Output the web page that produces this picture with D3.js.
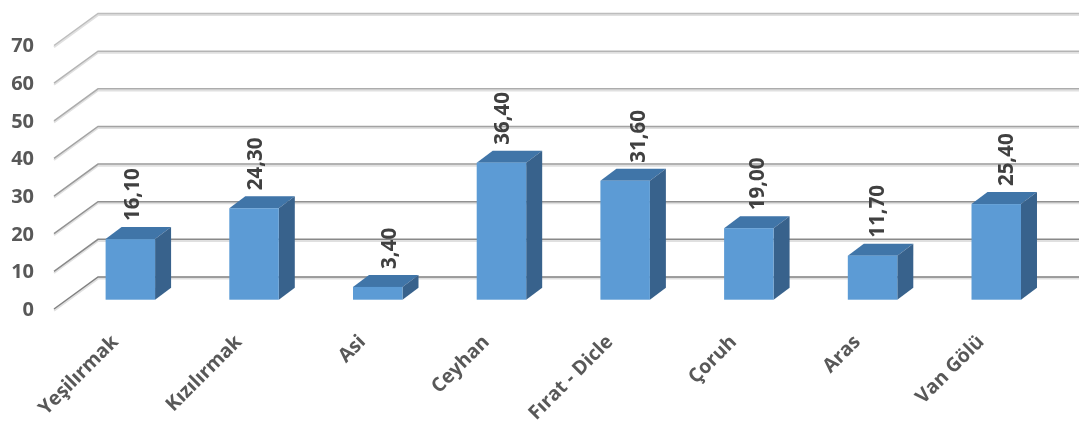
<!DOCTYPE html>
<html lang="tr">
<head>
<meta charset="UTF-8">
<title>Havzalar</title>
<style>
    body { margin: 0; background: #fff; }
    svg { display: block; }
    text { font-family: 'Open Sans', sans-serif; font-weight: 700; }
    .y-axis text { font-size: 20px; fill: #595959; }
    .x-axis text { font-size: 19.5px; fill: #595959; }
    .label { font-size: 20.5px; fill: #404040; }
</style>
</head>
<body>
<div id="chart"></div>
<script src="https://d3js.org/d3.v7.min.js"></script>
<script>
const categories = ['Yeşilırmak', 'Kızılırmak', 'Asi', 'Ceyhan', 'Fırat - Dicle', 'Çoruh', 'Aras', 'Van Gölü'];
const values = [16.1, 24.3, 3.4, 36.4, 31.6, 19.0, 11.7, 25.4];
const labels = ['16,10', '24,30', '3,40', '36,40', '31,60', '19,00', '11,70', '25,40'];
const yTicks = [0, 10, 20, 30, 40, 50, 60, 70];

const width = 1079, height = 426;

// 3d offsets: floor front -> back wall, and bar front -> bar back
const wallDx = 44, wallDy = -32;
const barDx = 16, barDy = -12;
const axisBase = 309, barBase = 299.7;
const plotH = 263.5;

// data labels were nudged by hand in the original, px from bar centre
const labelNudge = [1.5, 1, 11, 0, 13, 8, 4.5, 10];

const svg = d3.select('#chart').append('svg')
    .attr('width', width)
    .attr('height', height);

const defs = svg.append('defs');
defs.append('filter').attr('id', 'soft')
    .append('feGaussianBlur').attr('stdDeviation', 0.5);

const x = d3.scaleBand()
    .domain(categories)
    .range([68.5, 1058.1])
    .paddingInner(0.6)
    .paddingOuter(0.3);

const y = d3.scaleLinear().domain([0, 70]).range([0, -plotH]);

const root = svg.append('g').attr('filter', 'url(#soft)');

// grid: side wall diagonal + back wall line
const gridColor = d3.scaleLinear().domain([0, 70]).range(['#808080', '#bdbdbd']);

const grid = root.append('g').attr('transform', `translate(0,${axisBase})`);
grid.selectAll('path.shadow')
    .data(yTicks)
    .enter()
    .append('path')
    .attr('class', 'shadow')
    .attr('d', d => `M54,${y(d) + 1.6}L${54 + wallDx},${y(d) + wallDy + 1.6}H${width}`)
    .attr('fill', 'none')
    .attr('stroke', '#e0e0e0')
    .attr('stroke-width', 2);
grid.selectAll('path.line')
    .data(yTicks)
    .enter()
    .append('path')
    .attr('class', 'line')
    .attr('d', d => `M54,${y(d)}L${54 + wallDx},${y(d) + wallDy}H${width}`)
    .attr('fill', 'none')
    .attr('stroke', d => gridColor(d))
    .attr('stroke-width', 1.5);

// bars
const bars = root.append('g').attr('transform', `translate(0,${barBase})`);
const w = x.bandwidth();

bars.selectAll('.top')
    .data(values)
    .enter()
    .append('path')
    .attr('class', 'top')
    .attr('fill', '#3f74a8')
    .attr('d', (d, i) => {
        const x0 = x(categories[i]), t = y(d);
        return `M${x0},${t}l${barDx},${barDy}h${w}l${-barDx},${-barDy}z`;
    });

bars.selectAll('.side')
    .data(values)
    .enter()
    .append('path')
    .attr('class', 'side')
    .attr('fill', '#38628c')
    .attr('d', (d, i) => {
        const x1 = x(categories[i]) + w, t = y(d);
        return `M${x1},${t}l${barDx},${barDy}V${barDy}L${x1},0z`;
    });

bars.selectAll('.front')
    .data(values)
    .enter()
    .append('rect')
    .attr('class', 'front')
    .attr('fill', '#5b9bd5')
    .attr('x', (d, i) => x(categories[i]))
    .attr('y', d => y(d))
    .attr('width', w)
    .attr('height', d => -y(d));

// data labels
bars.selectAll('.label')
    .data(values)
    .enter()
    .append('text')
    .attr('class', 'label')
    .attr('transform', (d, i) => `translate(${x(categories[i]) + w / 2 + labelNudge[i]},${y(d) - 18}) rotate(-90)`)
    .attr('dy', '0.35em')
    .text((d, i) => labels[i]);

// y axis labels
const yAxis = d3.axisLeft(y).tickValues(yTicks).tickSize(0).tickPadding(0);
const yG = root.append('g')
    .attr('class', 'y-axis')
    .attr('transform', `translate(34,${axisBase})`)
    .call(yAxis);
yG.select('.domain').remove();

// category labels
const xAxis = d3.axisBottom(x).tickSize(0).tickPadding(0);
const xG = root.append('g')
    .attr('class', 'x-axis')
    .attr('transform', 'translate(-16,338)')
    .call(xAxis);
xG.select('.domain').remove();
xG.selectAll('text')
    .attr('text-anchor', 'end')
    .attr('transform', 'rotate(-45)')
    .attr('dy', '0.35em')
    .attr('y', 0);
</script>
</body>
</html>
